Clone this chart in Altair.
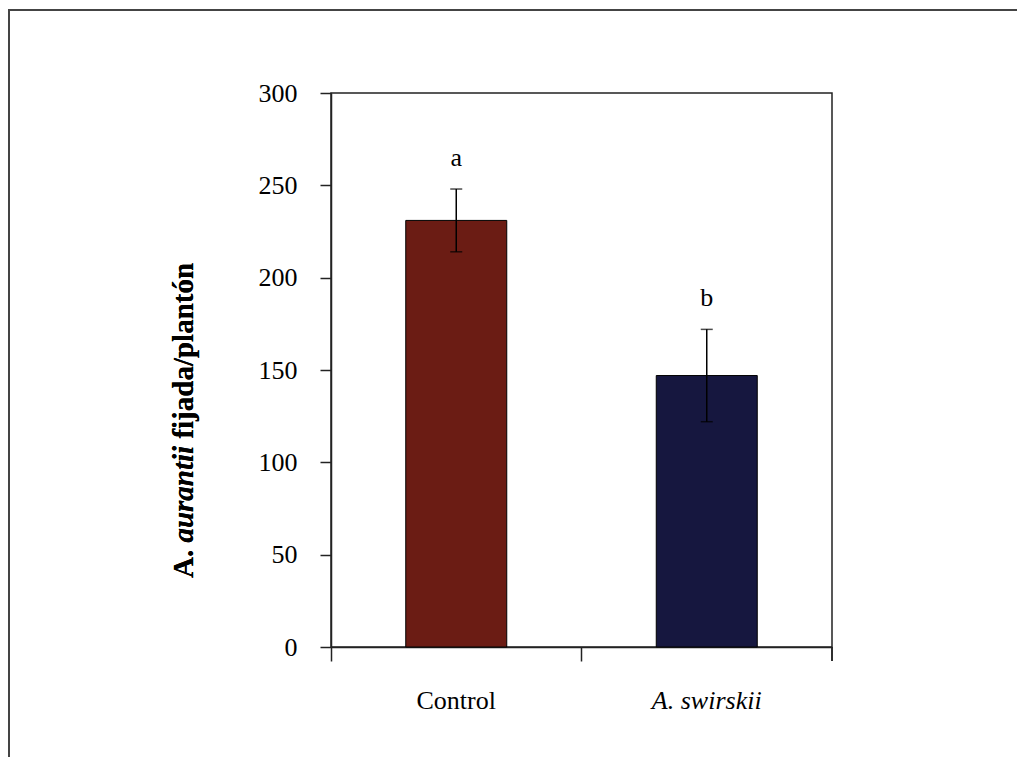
import altair as alt
import pandas as pd

categories = ["Control", "A. swirskii"]
means = [231, 147]
errors = [17, 25]
letters = ["a", "b"]
bar_colors = ["#6B1C14", "#16173F"]
y_ticks = [0, 50, 100, 150, 200, 250, 300]
title_parts = ["A.", "aurantii", "fijada/plantón"]
title_styles = ["normal", "italic", "normal"]

df = pd.DataFrame({"cat": categories, "mean": means, "err": errors,
                   "letter": letters, "color": bar_colors})
df["lo"] = df["mean"] - df["err"]
df["hi"] = df["mean"] + df["err"]

W, H = 501, 554
FONT = "Liberation Serif"
LINE = "#222222"

x_enc = alt.X(
    "cat:N", sort=categories,
    scale=alt.Scale(paddingInner=0, paddingOuter=0),
    axis=alt.Axis(
        title=None, bandPosition=0, tickSize=14, labelPadding=26,
        labelFontSize=26, labelFont=FONT, labelAngle=0, labelColor="black",
        labelBaseline="top",
        labelFontStyle={"condition": {"test": "datum.value === 'A. swirskii'", "value": "italic"},
                        "value": "normal"},
        domainColor=LINE, tickColor=LINE, domainWidth=1.5, tickWidth=1.5,
    ),
)
y_scale = alt.Scale(domain=[0, 300], nice=False, zero=True)

base = alt.Chart(df)

bars = base.mark_bar(size=101, stroke="black", strokeWidth=1).encode(
    x=x_enc,
    y=alt.Y("mean:Q", scale=y_scale,
            axis=alt.Axis(values=y_ticks, title=None, tickSize=11, labelPadding=23,
                          labelFontSize=26, labelFont=FONT, labelColor="black",
                          grid=False, domainColor=LINE, tickColor=LINE,
                          domainWidth=1.5, tickWidth=1.5)),
    color=alt.Color("color:N", scale=None),
)

err_rule = base.mark_rule(color="black", strokeWidth=1.5).encode(
    x=alt.X("cat:N", sort=categories), y="lo:Q", y2="hi:Q")
cap_hi = base.mark_tick(color="black", size=12, thickness=1.5).encode(
    x=alt.X("cat:N", sort=categories), y="hi:Q")
cap_lo = base.mark_tick(color="black", size=12, thickness=1.5).encode(
    x=alt.X("cat:N", sort=categories), y="lo:Q")

letters_layer = base.mark_text(dy=-23, fontSize=26, font=FONT, baseline="alphabetic",
                               color="black").encode(
    x=alt.X("cat:N", sort=categories), y="hi:Q", text="letter:N")

end_tick = alt.Chart(df).mark_rule(color=LINE, strokeWidth=1.5).encode(
    x=alt.value(W), y=alt.value(H), y2=alt.value(H + 14))

frame = alt.Chart(df).mark_rect(fillOpacity=0, stroke="#444444", strokeWidth=2).encode(
    x=alt.value(-322), x2=alt.value(3000), y=alt.value(-83), y2=alt.value(3000))

title_y = [485, 449.6, 345.6]
title_layers = []
for part, style, yy in zip(title_parts, title_styles, title_y):
    title_layers.append(
        alt.Chart(df).mark_text(
            text=part, angle=270, align="left", baseline="alphabetic",
            font=FONT, fontSize=29, fontWeight="bold", fontStyle=style, color="black",
        ).encode(x=alt.value(-138), y=alt.value(yy))
    )

chart = alt.layer(frame, bars, err_rule, cap_hi, cap_lo, letters_layer, end_tick,
                  *title_layers).properties(
    width=W, height=H,
    padding={"left": 323, "top": 85, "right": 185, "bottom": 110},
    autosize="none",
).configure_view(stroke=LINE, strokeWidth=1.5).configure_axis(grid=False)

chart.save("out.html", embed_options={"renderer": "svg", "actions": False})
